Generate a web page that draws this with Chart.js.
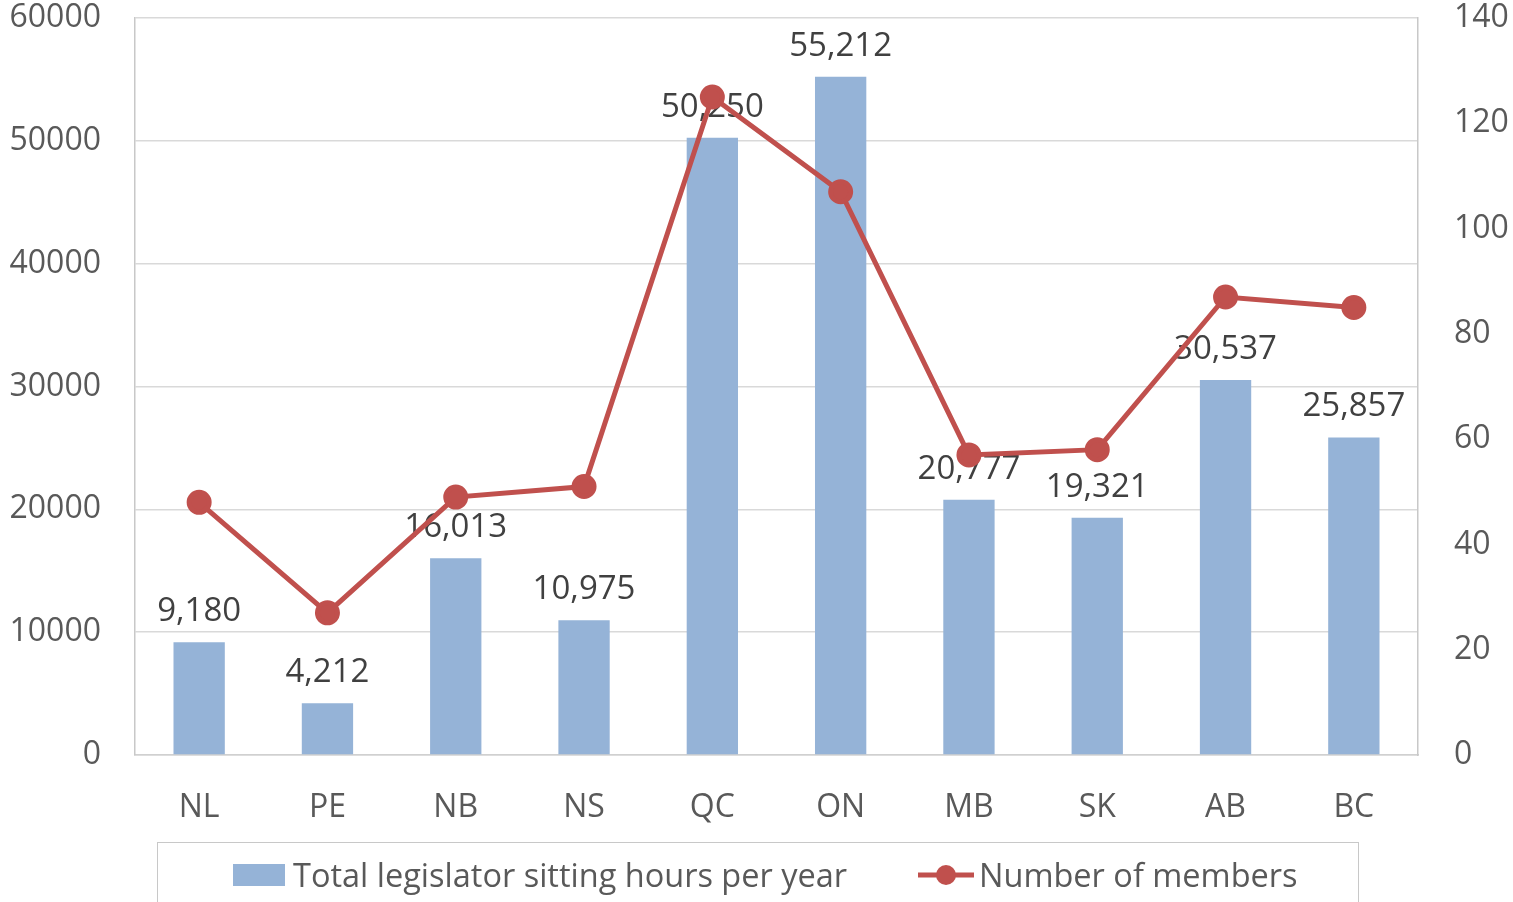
<!DOCTYPE html>
<html>
<head>
<meta charset="utf-8">
<script src="https://cdn.jsdelivr.net/npm/chart.js@4"></script>
<style>
    html, body { margin: 0; padding: 0; background: #fff; }
    #wrap { position: relative; width: 1513px; height: 902px; }
    #legend {
        position: absolute; left: 157px; top: 842px; width: 1202px; height: 80px;
        border: 1px solid #c8c8c8; box-sizing: border-box;
        font-family: "Open Sans", sans-serif; font-size: 32.5px; color: #595959;
    }
    .item { position: absolute; top: 9px; display: flex; align-items: center; white-space: nowrap; }
    .item canvas { margin-right: 4px; }
</style>
</head>
<body>
<div id="wrap">
    <canvas id="myChart" width="1513" height="902"></canvas>
    <div id="legend"></div>
</div>
<script>
"use strict";

const provinces = ['NL', 'PE', 'NB', 'NS', 'QC', 'ON', 'MB', 'SK', 'AB', 'BC'];
const sittingHours = [9180, 4212, 16013, 10975, 50250, 55212, 20777, 19321, 30537, 25857];
const members = [48, 27, 49, 51, 125, 107, 57, 58, 87, 85];
const hoursTicks = [0, 10000, 20000, 30000, 40000, 50000, 60000];
const memberTicks = [0, 20, 40, 60, 80, 100, 120, 140];

const barColor = '#95B3D7';
const lineColor = '#C0504D';
const font = '"Open Sans", sans-serif';

// labels over the bars, drawn before the line so the line sits on top
const barLabels = {
    id: 'barLabels',
    afterDatasetDraw(chart, args) {
        if (args.index !== 0) return;
        const ctx = chart.ctx;
        ctx.save();
        ctx.font = '33px ' + font;
        ctx.fillStyle = '#404040';
        ctx.textAlign = 'center';
        ctx.textBaseline = 'alphabetic';
        args.meta.data.forEach((bar, i) => {
            ctx.fillText(sittingHours[i].toLocaleString('en-US'), bar.x, bar.y - 21);
        });
        ctx.restore();
    }
};

function noPad(scale) {
    scale.paddingTop = 0;
    scale.paddingBottom = 0;
}

const ctx = document.getElementById('myChart');

const chart = new Chart(ctx, {
    data: {
        labels: provinces,
        datasets: [{
            type: 'bar',
            label: 'Total legislator sitting hours per year',
            data: sittingHours,
            backgroundColor: barColor,
            yAxisID: 'y',
            barPercentage: 0.4,
            categoryPercentage: 1,
            order: 2
        }, {
            type: 'line',
            label: 'Number of members',
            data: members,
            borderColor: lineColor,
            backgroundColor: lineColor,
            borderWidth: 5,
            pointRadius: 10,
            pointHoverRadius: 10,
            tension: 0,
            yAxisID: 'y1',
            order: 1
        }]
    },
    options: {
        responsive: false,
        animation: false,
        layout: { padding: { top: 18, right: 0, left: 0, bottom: 0 } },
        plugins: {
            legend: { display: false },
            tooltip: { enabled: false }
        },
        scales: {
            x: {
                grid: { display: false },
                border: { color: '#d0d0d0', width: 1.5 },
                ticks: { color: '#595959', font: { family: font, size: 32 }, padding: 26 },
                afterFit(scale) { scale.height = 147; }
            },
            y: {
                position: 'left',
                min: 0, max: 60000,
                afterBuildTicks(scale) { scale.ticks = hoursTicks.map(v => ({ value: v })); },
                grid: { color: '#d9d9d9', lineWidth: 1.5, drawTicks: false },
                border: { color: '#c8c8c8', width: 1.5 },
                ticks: {
                    color: '#595959', font: { family: font, size: 32 }, padding: 34,
                    callback: v => String(v)
                },
                afterFit(scale) { scale.width = 135; noPad(scale); }
            },
            y1: {
                position: 'right',
                min: 0, max: 140,
                afterBuildTicks(scale) { scale.ticks = memberTicks.map(v => ({ value: v })); },
                grid: { display: false, drawTicks: false },
                border: { color: '#c8c8c8', width: 1.5 },
                ticks: {
                    color: '#595959', font: { family: font, size: 32 }, padding: 36,
                    callback: v => String(v)
                },
                afterFit(scale) { scale.width = 95; noPad(scale); }
            }
        }
    },
    plugins: [barLabels]
});

// html legend
function swatch(kind) {
    const c = document.createElement('canvas');
    c.width = 58; c.height = 26;
    const g = c.getContext('2d');
    if (kind === 'bar') {
        g.fillStyle = barColor;
        g.fillRect(2, 2, 52, 22);
    } else {
        g.strokeStyle = lineColor;
        g.lineWidth = 5;
        g.beginPath(); g.moveTo(1, 13); g.lineTo(57, 13); g.stroke();
        g.fillStyle = lineColor;
        g.beginPath(); g.arc(29, 13, 10, 0, Math.PI * 2); g.fill();
    }
    return c;
}

const legend = document.getElementById('legend');
const lefts = [73, 759];
chart.data.datasets.forEach((ds, i) => {
    const item = document.createElement('div');
    item.className = 'item';
    item.style.left = lefts[i] + 'px';
    item.appendChild(swatch(ds.type));
    const span = document.createElement('span');
    span.textContent = ds.label;
    item.appendChild(span);
    legend.appendChild(item);
});
</script>
</body>
</html>
